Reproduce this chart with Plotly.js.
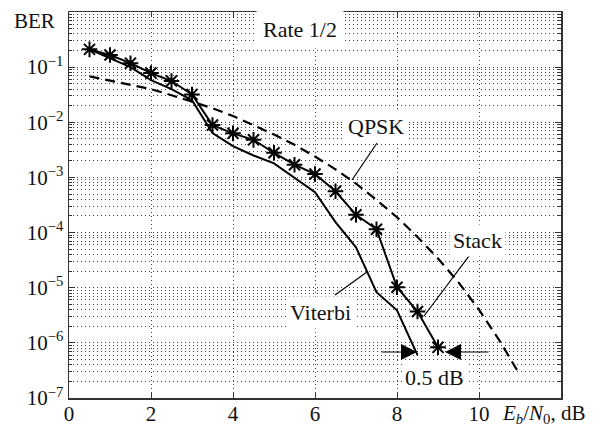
<!DOCTYPE html>
<html>
<head>
<meta charset="utf-8">
<script src="https://cdn.plot.ly/plotly-3.0.1.min.js"></script>
<style>html,body{margin:0;padding:0;background:#fff;}#chart{width:608px;height:428px;}</style>
</head>
<body>
<div id="chart"></div>
<script>
// Stack decoding (solid line with asterisks)
const stackX = [0.5, 1, 1.5, 2, 2.5, 3, 3.5, 4, 4.5, 5, 5.5, 6, 6.5, 7, 7.5, 8, 8.5, 9];
const stackBER = [0.21, 0.166, 0.118, 0.078, 0.056, 0.032, 0.0089, 0.0063, 0.0048, 0.0028, 0.0017, 0.00115, 5.6e-4, 2.1e-4, 1.15e-4, 1.02e-5, 3.7e-6, 8.3e-7];

// Viterbi decoding (solid line)
const viterbiX = [0.5, 1, 1.5, 2, 2.5, 3, 3.5, 4, 4.5, 5, 5.5, 6, 6.5, 7, 7.5, 7.8, 8, 8.5];
const viterbiBER = [0.21, 0.146, 0.1, 0.058, 0.04, 0.025, 0.0064, 0.0037, 0.0025, 0.0018, 9.7e-4, 5.4e-4, 1.55e-4, 5.4e-5, 8.3e-6, 5.2e-6, 3.9e-6, 6e-7];

// Uncoded QPSK (dashed line)
const qpskX = [0.5, 1, 1.5, 2, 2.5, 3, 3.5, 4, 4.5, 5, 5.5, 6, 6.5, 7, 7.5, 8, 8.5, 9, 9.5, 10, 10.5, 11];
const qpskBER = [0.068, 0.057, 0.048, 0.040, 0.031, 0.024, 0.018, 0.013, 0.0088, 0.006, 0.0039, 0.0024, 0.0014, 7.7e-4, 3.9e-4, 1.9e-4, 8.3e-5, 3.4e-5, 1.25e-5, 4e-6, 1.1e-6, 2.6e-7];

const xTickVals = [0, 2, 4, 6, 8, 10];
const xTickText = ['0', '2', '4', '6', '8', '10'];
const yTickVals = [1e-7, 1e-6, 1e-5, 1e-4, 1e-3, 1e-2, 1e-1];
const yTickText = ['10<sup>\u22127</sup>', '10<sup>\u22126</sup>', '10<sup>\u22125</sup>', '10<sup>\u22124</sup>', '10<sup>\u22123</sup>', '10<sup>\u22122</sup>', '10<sup>\u22121</sup>'];

// layout geometry (pixels)
const W = 608, H = 428, L = 69, R = 561, T = 12, B = 398;
const px = v => (v - L) / (R - L);
const py = v => (B - v) / (B - T);

const FONT = '"Liberation Serif", "Times New Roman", serif';
const GRID = '#444';
const GRIDDASH = '1px,3px';

const traces = [
  {x: qpskX, y: qpskBER, mode: 'lines', line: {color: '#000', width: 2.2, dash: '10px,6px'}, hoverinfo: 'skip'},
  {x: viterbiX, y: viterbiBER, mode: 'lines', line: {color: '#000', width: 2}, hoverinfo: 'skip'},
  {x: stackX, y: stackBER, mode: 'lines+markers', line: {color: '#000', width: 2},
   marker: {symbol: 'asterisk-open', size: 13, color: '#000', line: {color: '#000', width: 2}}, hoverinfo: 'skip'}
];

function lineShape(x0, y0, x1, y1) {
  return {type: 'line', xref: 'paper', yref: 'paper', x0: px(x0), y0: py(y0), x1: px(x1), y1: py(y1),
          line: {color: '#000', width: 1.2}};
}

function label(text, cx, cy, opts) {
  return Object.assign({text: text, xref: 'paper', yref: 'paper', x: px(cx), y: py(cy),
    xanchor: 'center', yanchor: 'middle', showarrow: false,
    font: {family: FONT, size: 22, color: '#111'}}, opts || {});
}

function arrow(tipX, tipY, tailX, tailY) {
  return {text: '', xref: 'paper', yref: 'paper', x: px(tipX), y: py(tipY),
    ax: tailX - tipX, ay: tailY - tipY, showarrow: true, arrowhead: 2, arrowsize: 3.2,
    arrowwidth: 1, arrowcolor: '#000', standoff: 0};
}

const layout = {
  width: W, height: H,
  margin: {l: L, r: W - R, t: T, b: H - B, pad: 0},
  paper_bgcolor: '#fff', plot_bgcolor: '#fff',
  showlegend: false,
  font: {family: FONT, size: 21, color: '#111'},
  xaxis: {
    range: [0, 12], tickmode: 'array', tickvals: xTickVals, ticktext: xTickText,
    showline: true, linecolor: '#333', linewidth: 1.5, mirror: 'ticks',
    ticks: 'inside', ticklen: 5, tickcolor: '#333', ticklabelstandoff: -4,
    showgrid: true, gridcolor: GRID, griddash: GRIDDASH, gridwidth: 1,
    zeroline: false, tickfont: {family: FONT, size: 21, color: '#111'}
  },
  yaxis: {
    type: 'log', range: [-7, 0], tickmode: 'array', tickvals: yTickVals, ticktext: yTickText,
    showline: true, linecolor: '#333', linewidth: 1.5, mirror: 'ticks',
    ticks: 'inside', ticklen: 6, tickcolor: '#333',
    showgrid: true, gridcolor: GRID, griddash: GRIDDASH, gridwidth: 1,
    minor: {dtick: 'D1', showgrid: true, gridcolor: GRID, griddash: GRIDDASH, gridwidth: 1,
            ticks: 'inside', ticklen: 3, tickcolor: '#333'},
    zeroline: false, tickfont: {family: FONT, size: 21, color: '#111'}
  },
  shapes: [
    lineShape(377, 143, 352, 180),
    lineShape(472, 252, 424, 316),
    lineShape(335, 295, 367, 272)
  ],
  annotations: [
    label('BER', 34, 21, {font: {family: FONT, size: 21, color: '#111'}}),
    label('Rate 1/2', 300, 29, {bgcolor: '#fff', borderpad: 6}),
    label('QPSK', 376, 127, {bgcolor: '#fff', borderpad: 3}),
    label('Stack', 477, 240, {bgcolor: '#fff', borderpad: 3}),
    label('Viterbi', 320, 312, {bgcolor: '#fff', borderpad: 3}),
    label('0.5 dB', 434, 377, {bgcolor: '#fff', borderpad: 2}),
    label('<i>E<sub>b</sub></i>/<i>N</i><sub>0</sub>, dB', 500, 414, {xanchor: 'left', font: {family: FONT, size: 21, color: '#111'}}),
    arrow(417, 352, 380, 352),
    arrow(445, 352, 490, 352)
  ]
};

Plotly.newPlot('chart', traces, layout, {staticPlot: true, displayModeBar: false});
</script>
</body>
</html>
